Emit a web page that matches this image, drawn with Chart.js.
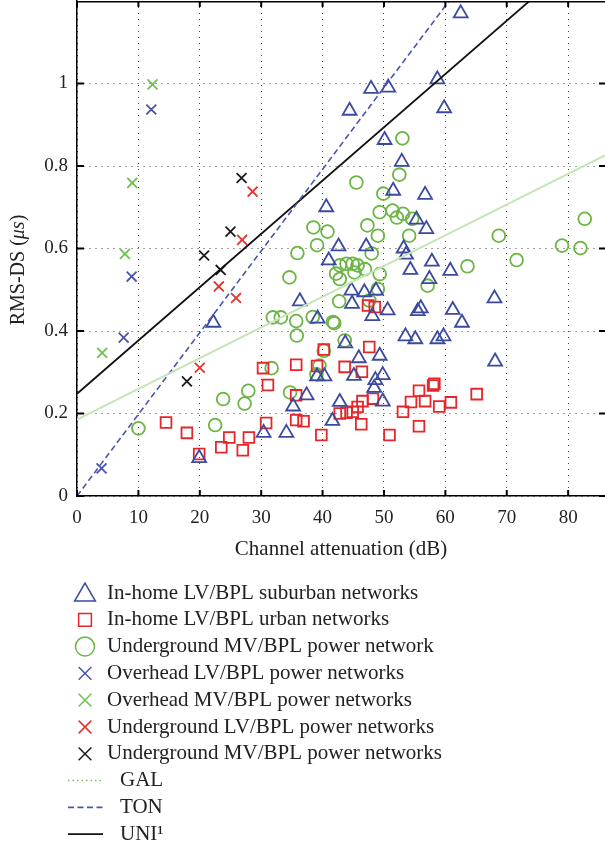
<!DOCTYPE html>
<html><head><meta charset="utf-8">
<script src="https://cdn.jsdelivr.net/npm/chart.js@4.4.1/dist/chart.umd.min.js"></script>
<style>html,body{margin:0;padding:0;background:#fff;}#wrap{width:605px;height:848px;position:relative;}</style>
</head><body><div id="wrap"><canvas id="c" width="605" height="848"></canvas></div>
<script>
// ---- data (channel attenuation dB, RMS-DS us) ----
const xTickValues = [0, 10, 20, 30, 40, 50, 60, 70, 80];
const yTickValues = [0, 0.2, 0.4, 0.6, 0.8, 1];
const seriesLabels = [
  'In-home LV/BPL suburban networks',
  'In-home LV/BPL urban networks',
  'Underground MV/BPL power network',
  'Overhead LV/BPL power networks',
  'Overhead MV/BPL power networks',
  'Underground LV/BPL power networks',
  'Underground MV/BPL power networks',
  'GAL', 'TON', 'UNI\u00B9'
];
const inHomeSuburban = [
  [62.5,1.17],[58.7,1.01],[59.8,0.94],[47.9,0.987],[50.7,0.99],[44.4,0.934],[50.1,0.863],[52.9,0.81],
  [51.5,0.74],[56.7,0.73],[40.6,0.70],[55.3,0.67],[56.9,0.647],[42.6,0.605],[47.1,0.605],[53.2,0.60],
  [53.6,0.585],[41.0,0.571],[57.8,0.568],[54.3,0.548],[60.8,0.546],[57.4,0.526],[44.7,0.498],[46.8,0.494],
  [48.7,0.498],[68.0,0.479],[36.3,0.472],[44.8,0.466],[50.6,0.45],[56.0,0.455],[55.5,0.448],[61.2,0.451],
  [48.1,0.436],[39.2,0.43],[62.7,0.42],[22.2,0.42],[53.5,0.387],[55.1,0.38],[58.7,0.38],[59.7,0.387],
  [43.7,0.37],[45.9,0.334],[49.3,0.34],[68.1,0.326],[45.1,0.291],[49.8,0.293],[48.6,0.281],[48.4,0.262],
  [39.1,0.29],[40.3,0.29],[37.4,0.244],[49.8,0.229],[42.8,0.228],[35.2,0.217],[41.6,0.182],[30.4,0.153],
  [34.1,0.153],[19.9,0.092]
];
const inHomeUrban = [
  [14.5,0.178],[17.9,0.153],[19.9,0.102],[23.5,0.118],[24.8,0.142],[27.0,0.111],[28.0,0.142],[30.8,0.177],
  [30.3,0.31],[31.1,0.269],[35.7,0.318],[35.7,0.184],[36.9,0.181],[35.7,0.244],[39.1,0.315],[39.8,0.148],
  [40.2,0.355],[43.6,0.313],[42.8,0.2],[43.9,0.202],[44.9,0.204],[45.7,0.216],[46.5,0.23],[46.4,0.301],
  [46.3,0.174],[47.4,0.462],[48.5,0.458],[47.6,0.361],[48.2,0.236],[50.9,0.148],[53.1,0.204],[54.4,0.228],
  [55.7,0.255],[56.7,0.23],[58.2,0.272],[58.0,0.268],[55.7,0.169],[59.0,0.217],[60.9,0.227],[65.1,0.247]
];
const undergroundMVNetwork = [
  [10.0,0.164],[22.5,0.172],[23.8,0.235],[27.3,0.224],[27.9,0.255],[31.7,0.31],[34.7,0.251],[31.9,0.433],
  [33.2,0.433],[35.7,0.424],[35.8,0.389],[34.6,0.53],[35.9,0.589],[38.4,0.434],[38.5,0.651],[39.1,0.608],
  [40.8,0.641],[39.5,0.316],[39.0,0.295],[40.2,0.352],[41.7,0.422],[41.9,0.419],[42.7,0.472],[43.6,0.377],
  [42.2,0.539],[42.8,0.526],[42.8,0.559],[43.9,0.563],[44.9,0.563],[45.7,0.559],[46.9,0.55],[45.2,0.542],
  [49.3,0.538],[48.0,0.588],[47.6,0.474],[49.0,0.502],[45.5,0.76],[47.3,0.656],[49.0,0.631],[49.3,0.688],
  [49.9,0.733],[51.4,0.692],[52.1,0.675],[53.1,0.684],[54.6,0.672],[54.1,0.631],[52.5,0.779],[53.0,0.867],
  [57.1,0.51],[63.6,0.557],[68.7,0.631],[71.6,0.572],[79.0,0.607],[82.0,0.601],[82.7,0.672]
];
const overheadLV = [[12.1,0.937],[8.9,0.532],[7.6,0.384],[4.0,0.067]];
const overheadMV = [[12.3,0.998],[9.0,0.759],[7.8,0.587],[4.1,0.347]];
const undergroundLV = [[28.6,0.738],[26.9,0.621],[23.1,0.508],[25.9,0.48],[20.0,0.311]];
const undergroundMV = [[26.8,0.771],[25.0,0.641],[20.7,0.583],[23.4,0.548],[17.9,0.278]];
const galLine = [[0,0.185],[86,0.826]];
const tonLine = [[0,0],[86,1.703]];
const uniLine = [[0,0.248],[86,1.359]];

// ---- styles ----
const FONT = "'Liberation Serif', 'DejaVu Serif', serif";
const pts = a => a.map(p => ({x: p[0], y: p[1]}));
const styles = [
  {pointStyle:'triangle', color:'#3b4a9e', r:8, lr:12},
  {pointStyle:'rect', color:'#e5262b', r:7.6, lr:9},
  {pointStyle:'circle', color:'#6cb545', r:6.4, lr:9.5},
  {pointStyle:'crossRot', color:'#4b55a8', r:7, lr:9},
  {pointStyle:'crossRot', color:'#6cc24a', r:7, lr:9},
  {pointStyle:'crossRot', color:'#e8302f', r:7, lr:9},
  {pointStyle:'crossRot', color:'#1a1a1a', r:7, lr:9},
  {line:true, color:'#c4e5b5', legendColor:'#77c254', dash:[1.5,3], width:2},
  {line:true, color:'#4a55ad', legendColor:'#4a55ad', dash:[6,3.5], width:1.6},
  {line:true, color:'#111111', legendColor:'#111111', dash:[], width:1.8}
];
const seriesData = [inHomeSuburban, inHomeUrban, undergroundMVNetwork, overheadLV, overheadMV, undergroundLV, undergroundMV, galLine, tonLine, uniLine];

const datasets = seriesData.map((d, i) => {
  const s = styles[i];
  if (s.line) {
    return {type:'line', label: seriesLabels[i], data: pts(d), borderColor: s.color, borderWidth: s.width,
      borderDash: i === 8 ? s.dash : [], pointRadius: 0, fill: false, tension: 0, order: 0};
  }
  return {type:'scatter', label: seriesLabels[i], data: pts(d), pointStyle: s.pointStyle, pointRadius: s.r,
    pointBorderColor: s.color, pointBackgroundColor: 'rgba(0,0,0,0)', pointBorderWidth: 1.8, showLine: false, order: 1};
});

const fmt = v => (Math.round(v * 10) / 10).toString();

const framePlugin = {
  id: 'frame',
  afterDraw(chart) {
    const {ctx, chartArea: a, scales: {x, y}} = chart;
    ctx.save();
    ctx.strokeStyle = '#000';
    ctx.lineWidth = 1.5;
    ctx.beginPath();
    ctx.moveTo(a.left, a.top + 0.75); ctx.lineTo(a.right, a.top + 0.75);
    ctx.stroke();
    ctx.lineWidth = 2;
    ctx.beginPath();
    xTickValues.forEach(v => {
      const px = x.getPixelForValue(v);
      ctx.moveTo(px, a.bottom); ctx.lineTo(px, a.bottom - 6);
      ctx.moveTo(px, a.top); ctx.lineTo(px, a.top + 6);
    });
    yTickValues.forEach(v => {
      const py = y.getPixelForValue(v);
      ctx.moveTo(a.left, py); ctx.lineTo(a.left + 7, py);
      ctx.moveTo(a.right, py); ctx.lineTo(a.right - 6, py);
    });
    ctx.stroke();
    ctx.restore();

    // y-axis title with italic unit
    ctx.save();
    ctx.translate(19, 270);
    ctx.rotate(-Math.PI / 2);
    ctx.fillStyle = '#222';
    ctx.textBaseline = 'middle';
    const parts = [['RMS-DS (', 'normal'], ['\u03BCs', 'italic'], [')', 'normal']];
    let total = 0;
    parts.forEach(p => { ctx.font = p[1] + ' 20px ' + FONT; total += ctx.measureText(p[0]).width; });
    let cx = -total / 2;
    parts.forEach(p => { ctx.font = p[1] + ' 20px ' + FONT; ctx.fillText(p[0], cx, 0); cx += ctx.measureText(p[0]).width; });
    ctx.restore();

    // legend
    const rowY0 = 593, rowStep = 26.8;
    const dp = Chart.helpers && Chart.helpers.drawPoint;
    chart.data.datasets.forEach((ds, i) => {
      const s = styles[i];
      const cy = rowY0 + i * rowStep;
      ctx.save();
      if (s.line) {
        ctx.strokeStyle = s.legendColor;
        ctx.lineWidth = i === 7 ? 1.5 : s.width;
        ctx.setLineDash(s.dash);
        ctx.beginPath(); ctx.moveTo(68, cy); ctx.lineTo(103, cy); ctx.stroke();
      } else {
        ctx.strokeStyle = s.color;
        ctx.fillStyle = 'rgba(0,0,0,0)';
        ctx.lineWidth = 1.5;
        const yy = s.pointStyle === 'triangle' ? cy + 2 : cy;
        if (dp) dp(ctx, {pointStyle: s.pointStyle, radius: s.lr, borderWidth: 1.5, rotation: 0}, 85, yy);
      }
      ctx.restore();
      ctx.save();
      ctx.fillStyle = '#222';
      ctx.font = '21px ' + FONT;
      ctx.textBaseline = 'middle';
      ctx.fillText(ds.label, s.line ? 120 : 107, cy);
      ctx.restore();
    });
  }
};

new Chart(document.getElementById('c'), {
  data: {datasets},
  options: {
    responsive: false,
    devicePixelRatio: 1,
    animation: false,
    events: [],
    layout: {autoPadding: false, padding: {top: 1, right: 0, bottom: 282, left: 0}},
    plugins: {legend: {display: false}, tooltip: {enabled: false}},
    scales: {
      x: {
        type: 'linear', position: 'bottom', min: 0, max: 86,
        afterFit: s => { s.height = 70; s.paddingLeft = 0; s.paddingRight = 0; },
        ticks: {stepSize: 10, includeBounds: false, autoSkip: false, maxRotation: 0, color: '#222', padding: 11,
          font: {family: FONT, size: 19}, callback: v => fmt(v)},
        grid: {color: '#444', lineWidth: 1, drawTicks: false},
        border: {display: true, color: '#000', width: 1.5, dash: [1, 5]},
        title: {display: true, text: 'Channel attenuation (dB)', color: '#222', font: {family: FONT, size: 21}, padding: {top: 4, bottom: 4}}
      },
      y: {
        type: 'linear', position: 'left', min: 0, max: 1.2,
        afterFit: s => { s.width = 77; s.paddingTop = 0; s.paddingBottom = 0; },
        ticks: {stepSize: 0.2, autoSkip: false, color: '#222', padding: 9,
          font: {family: FONT, size: 19}, callback: v => (v > 1.1 ? '' : fmt(v))},
        grid: {color: '#444', lineWidth: 1, drawTicks: false},
        border: {display: true, color: '#000', width: 1.5, dash: [1, 5]},
        title: {display: false}
      }
    }
  },
  plugins: [framePlugin]
});
</script></body></html>
